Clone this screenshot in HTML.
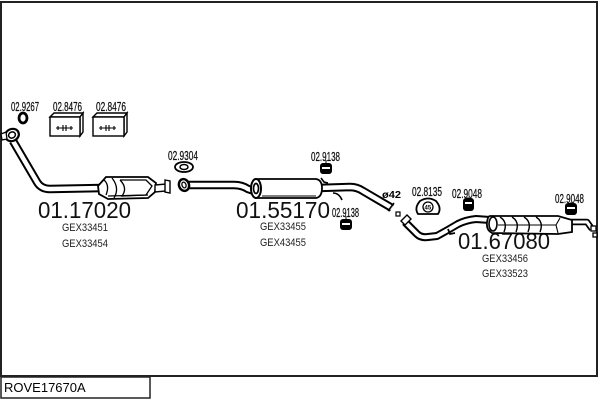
<!DOCTYPE html>
<html><head><meta charset="utf-8"><style>
html,body{margin:0;padding:0;background:#fff;}
svg{display:block}
</style></head><body>
<svg width="600" height="400" viewBox="0 0 600 400" xmlns="http://www.w3.org/2000/svg" font-family="'Liberation Sans', Arial, sans-serif">
<!-- frame -->
<rect x="1" y="2" width="596" height="374" fill="none" stroke="#222" stroke-width="2"/>
<rect x="1" y="377" width="149" height="21" fill="none" stroke="#222" stroke-width="1.5"/>
<text x="4" y="392" font-size="13" fill="#000">ROVE17670A</text>

<!-- ===== small labels ===== -->
<g font-size="12.5" fill="#111" stroke="#111" stroke-width="0.25">
<text x="11" y="111" textLength="28" lengthAdjust="spacingAndGlyphs">02.9267</text>
<text x="53" y="111" textLength="29" lengthAdjust="spacingAndGlyphs">02.8476</text>
<text x="96" y="111" textLength="30" lengthAdjust="spacingAndGlyphs">02.8476</text>
<text x="168" y="160" textLength="30" lengthAdjust="spacingAndGlyphs">02.9304</text>
<text x="311" y="161" textLength="29" lengthAdjust="spacingAndGlyphs">02.9138</text>
<text x="332" y="217" textLength="27" lengthAdjust="spacingAndGlyphs">02.9138</text>
<text x="412" y="196" textLength="30" lengthAdjust="spacingAndGlyphs">02.8135</text>
<text x="452" y="198" textLength="30" lengthAdjust="spacingAndGlyphs">02.9048</text>
<text x="555" y="203" textLength="29" lengthAdjust="spacingAndGlyphs">02.9048</text>
</g>
<text x="382" y="198" font-size="10" font-weight="bold" textLength="19" lengthAdjust="spacingAndGlyphs">ø42</text>

<!-- big labels -->
<g font-size="23.5" fill="#111">
<text x="38" y="218" textLength="93" lengthAdjust="spacingAndGlyphs">01.17020</text>
<text x="236" y="218" textLength="94" lengthAdjust="spacingAndGlyphs">01.55170</text>
<text x="458" y="249" textLength="92" lengthAdjust="spacingAndGlyphs">01.67080</text>
</g>
<g font-size="11" fill="#222">
<text x="62" y="231" textLength="46" lengthAdjust="spacingAndGlyphs">GEX33451</text>
<text x="62" y="247" textLength="46" lengthAdjust="spacingAndGlyphs">GEX33454</text>
<text x="260" y="230" textLength="46" lengthAdjust="spacingAndGlyphs">GEX33455</text>
<text x="260" y="246" textLength="46" lengthAdjust="spacingAndGlyphs">GEX43455</text>
<text x="482" y="262" textLength="46" lengthAdjust="spacingAndGlyphs">GEX33456</text>
<text x="482" y="277" textLength="46" lengthAdjust="spacingAndGlyphs">GEX33523</text>
</g>

<!-- ===== part 1: front pipe + cat ===== -->
<ellipse cx="23" cy="118" rx="4" ry="5" fill="#fff" stroke="#000" stroke-width="2.8"/>
<g stroke="#000" stroke-width="1.4" fill="#fff">
<polygon points="50,117 54,113 83,113 80,117"/>
<polygon points="80,117 83,113 83,132 80,136"/>
<rect x="50" y="117" width="30" height="19"/>
<polygon points="93,117 97,113 127,113 124,117"/>
<polygon points="124,117 127,113 127,132 124,136"/>
<rect x="93" y="117" width="31" height="19"/>
</g>
<g stroke="#000" stroke-width="1.1" fill="none">
<path d="M56,128 H73 M58,126 V130 M63,125 V131 M66,125 V131 M71,126 V130"/>
<path d="M99,128 H116 M101,126 V130 M106,125 V131 M109,125 V131 M114,126 V130"/>
</g>
<path d="M13,141 L37,182 Q41,189 50,189 L102,188" fill="none" stroke="#000" stroke-width="8.5" stroke-linejoin="round"/>
<path d="M13,141 L37,182 Q41,189 50,189 L102,188" fill="none" stroke="#fff" stroke-width="4.5" stroke-linejoin="round"/>
<ellipse cx="12" cy="135" rx="7" ry="6" transform="rotate(-25 12 135)" fill="#fff" stroke="#000" stroke-width="2.2"/>
<ellipse cx="12" cy="135" rx="3.5" ry="3" transform="rotate(-25 12 135)" fill="#fff" stroke="#000" stroke-width="1.5"/>
<path d="M1,134 L6,132 L7,139 L2,140 Z" fill="#fff" stroke="#000" stroke-width="1.3"/>
<!-- catalyst -->
<path d="M98,186 L106,177 L148,177 L156,183 L155,192 L148,198 L108,199 L99,194 Z" fill="#fff" stroke="#000" stroke-width="1.8"/>
<path d="M104,180 Q110,185 106,195 M112,178 Q120,188 114,198 M120,180 L146,180 L152,186 L146,195 L122,196 Q128,188 120,180" fill="none" stroke="#000" stroke-width="1.3"/>
<path d="M108,196 L148,195" stroke="#000" stroke-width="1.2"/>
<path d="M155,185 L166,184 L166,191 L155,192 Z" fill="#fff" stroke="#000" stroke-width="1.4"/>
<path d="M165,180 L170,181 L170,193 L165,192 Z" fill="#fff" stroke="#000" stroke-width="1.4"/>

<!-- ===== part 2: middle ===== -->
<ellipse cx="184" cy="167" rx="9" ry="5" fill="#fff" stroke="#000" stroke-width="1.8"/>
<ellipse cx="184" cy="167" rx="4" ry="2.5" fill="#fff" stroke="#000" stroke-width="1.5"/>
<path d="M186,185 L234,185 Q242,185 248,189 L254,191" fill="none" stroke="#000" stroke-width="8.5" stroke-linejoin="round"/>
<path d="M186,185 L234,185 Q242,185 248,189 L254,191" fill="none" stroke="#fff" stroke-width="4.5" stroke-linejoin="round"/>
<ellipse cx="184" cy="185" rx="5" ry="6" transform="rotate(-20 184 185)" fill="#fff" stroke="#000" stroke-width="2.4"/>
<ellipse cx="184" cy="185" rx="2" ry="3" transform="rotate(-20 184 185)" fill="#fff" stroke="#000" stroke-width="1.3"/>
<path d="M318,188 L350,187 Q357,187 363,191 L392,208" fill="none" stroke="#000" stroke-width="8.5" stroke-linejoin="round"/>
<path d="M318,188 L350,187 Q357,187 363,191 L392,208" fill="none" stroke="#fff" stroke-width="4.5" stroke-linejoin="round"/>
<path d="M388,211 L394,203" stroke="#000" stroke-width="1.6"/>
<path d="M256,179 L316,179 Q322,180 322,188 Q322,197 316,198 L256,198 Z" fill="#fff" stroke="#000" stroke-width="1.8"/>
<ellipse cx="256" cy="188.5" rx="5" ry="9.5" fill="#fff" stroke="#000" stroke-width="2"/>
<ellipse cx="256" cy="188.5" rx="2.5" ry="5" fill="#fff" stroke="#000" stroke-width="1.7"/>
<path d="M262,196 L316,196" stroke="#000" stroke-width="1.1"/>
<path d="M321,178 L324,182 L328,183" fill="none" stroke="#000" stroke-width="1.6"/>
<path d="M333,193 Q339,193 342,200" fill="none" stroke="#000" stroke-width="1.6"/>
<path d="M326,160 V164" stroke="#000" stroke-width="1"/>
<rect x="320" y="163" width="12" height="11" rx="3" fill="#000"/>
<rect x="322" y="167" width="8" height="2" fill="#fff"/>
<path d="M346,216 V220" stroke="#000" stroke-width="1"/>
<rect x="340" y="219" width="12" height="11" rx="3" fill="#000"/>
<rect x="342" y="223" width="8" height="2" fill="#fff"/>

<!-- ===== part 3: rear ===== -->
<path d="M418,214 Q414,208 420,201 Q428,196 436,201 Q442,208 438,214 Z" fill="#fff" stroke="#000" stroke-width="1.8"/>
<circle cx="428" cy="207" r="5" fill="#fff" stroke="#000" stroke-width="1.3"/>
<text x="424.5" y="209.5" font-size="6" font-weight="bold">45</text>
<path d="M468,197 V199" stroke="#000" stroke-width="1"/>
<rect x="463" y="198" width="11" height="13" rx="3" fill="#000"/>
<rect x="465" y="202" width="7" height="2" fill="#fff"/>
<path d="M571,202 V204" stroke="#000" stroke-width="1"/>
<rect x="565" y="203" width="12" height="12" rx="3" fill="#000"/>
<rect x="567" y="207" width="8" height="2" fill="#fff"/>
<rect x="396" y="212" width="4" height="4" fill="#fff" stroke="#000" stroke-width="1.2"/>
<path d="M405,222 L417,234 Q421,238 428,237 L437,236 Q448,230 458,224 Q466,220 476,219 L490,220" fill="none" stroke="#000" stroke-width="8" stroke-linejoin="round"/>
<path d="M405,222 L417,234 Q421,238 428,237 L437,236 Q448,230 458,224 Q466,220 476,219 L490,220" fill="none" stroke="#fff" stroke-width="4" stroke-linejoin="round"/>
<path d="M401,221 L407,215 L411,219 L405,225 Z" fill="#fff" stroke="#000" stroke-width="1.4"/>
<path d="M448,229 L450,234 L455,233" fill="none" stroke="#000" stroke-width="1.8"/>
<path d="M570,222 L587,222 L592,229" fill="none" stroke="#000" stroke-width="6.5" stroke-linejoin="round"/>
<path d="M570,222 L587,222 L592,229" fill="none" stroke="#fff" stroke-width="3" stroke-linejoin="round"/>
<rect x="591" y="226" width="5" height="5" fill="#fff" stroke="#000" stroke-width="1.3"/>
<rect x="593" y="233" width="4" height="4" fill="#fff" stroke="#000" stroke-width="1.3"/>
<path d="M490,216 L558,216 L572,220 L572,232 L558,234 L492,233 Q486,230 487,222 Q488,216 490,216 Z" fill="#fff" stroke="#000" stroke-width="1.8"/>
<ellipse cx="493" cy="224" rx="4" ry="7" fill="#fff" stroke="#000" stroke-width="1.6"/>
<path d="M500,217 Q508,222 504,232 M512,217 Q520,222 516,232 M524,217 Q532,222 528,232 M536,217 Q544,222 540,232" fill="none" stroke="#000" stroke-width="1.4"/>
<path d="M498,225 L556,225 L560,218 M556,225 L558,233" fill="none" stroke="#000" stroke-width="1.1"/>
</svg>
</body></html>
